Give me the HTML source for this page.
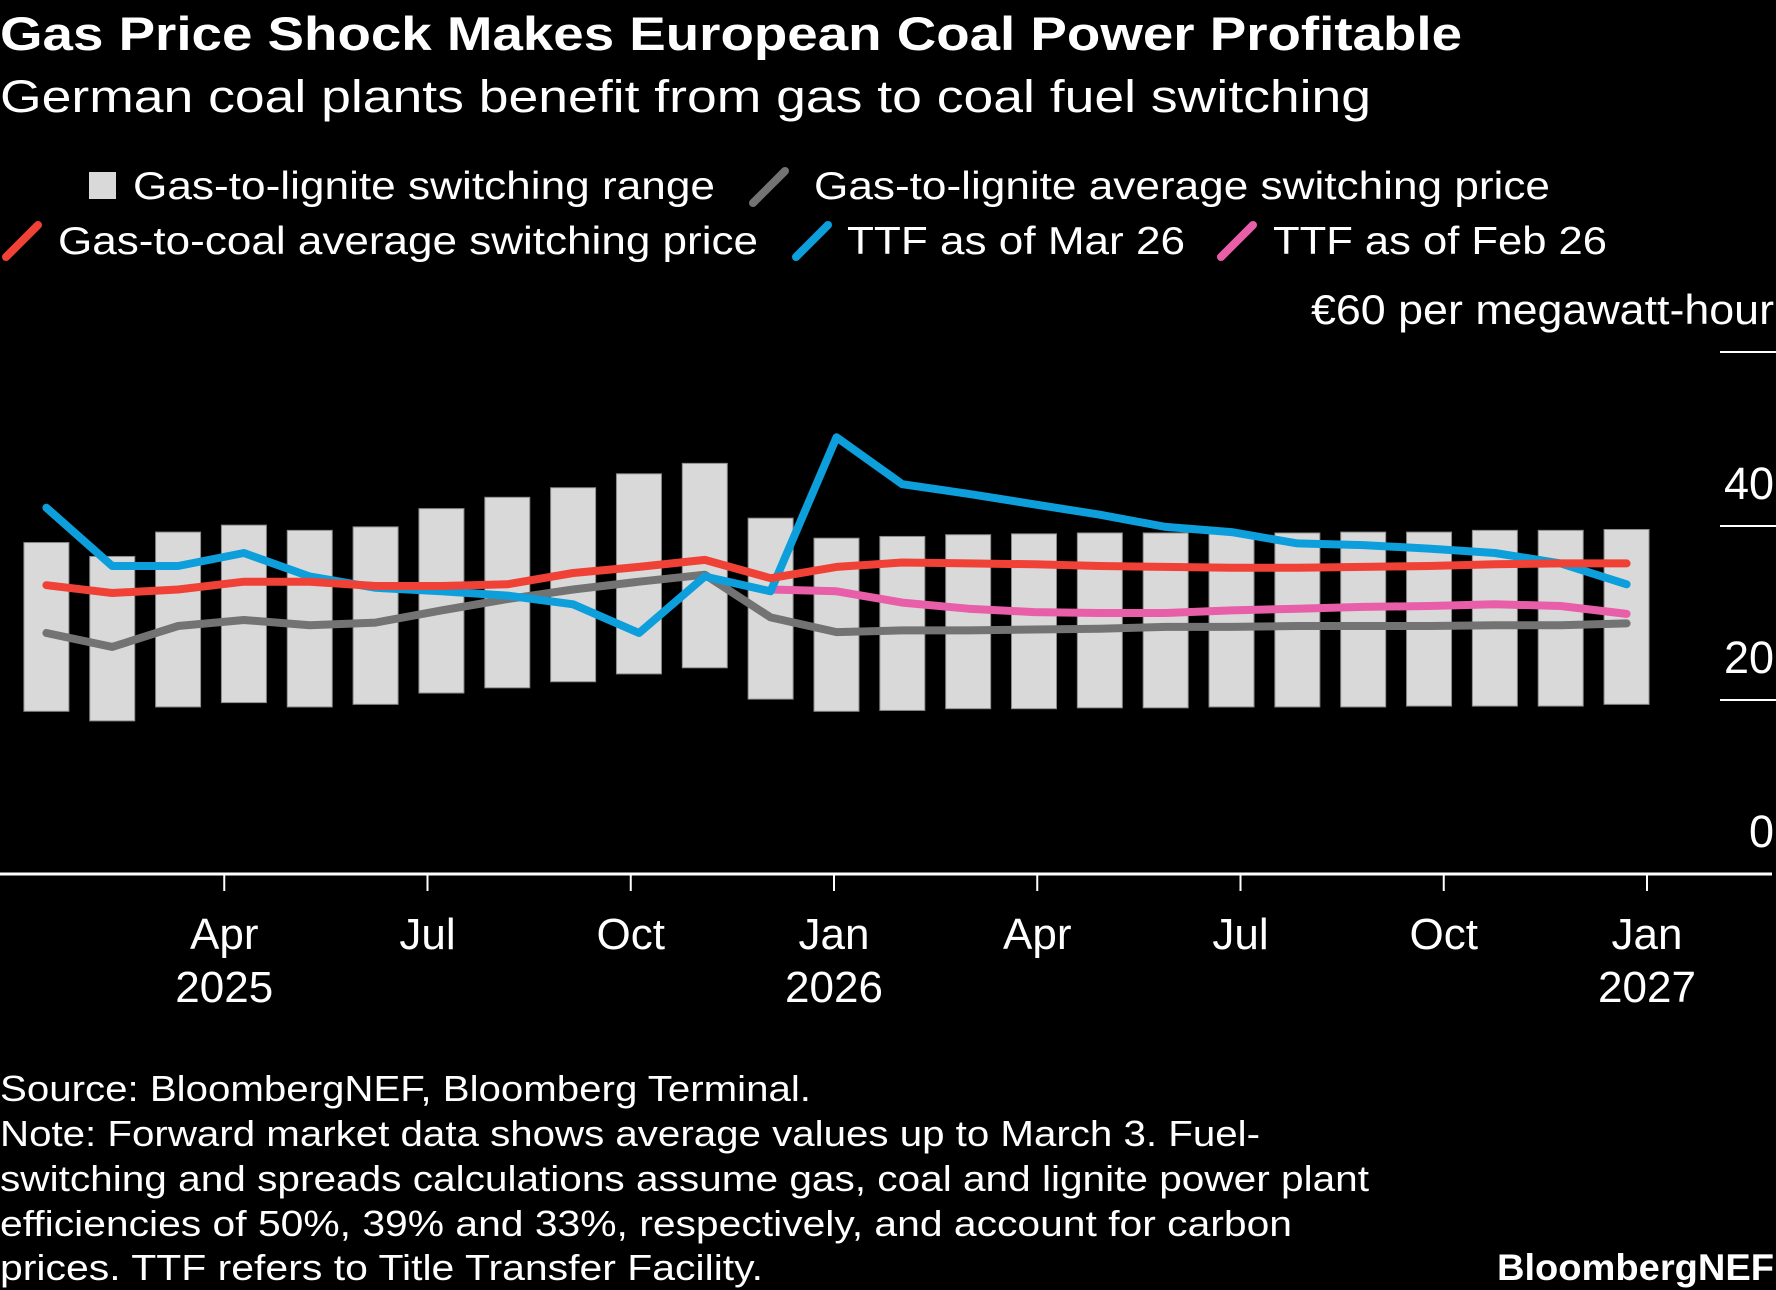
<!DOCTYPE html>
<html><head><meta charset="utf-8"><style>
html,body{margin:0;padding:0;background:#000;}
svg{display:block;font-family:"Liberation Sans",Arial,sans-serif;}
</style></head><body>
<svg id="chart" width="1776" height="1290" viewBox="0 0 1776 1290" xmlns="http://www.w3.org/2000/svg">
<rect width="1776" height="1290" fill="#000"/>
<text x="0" y="50" fill="#fff" font-size="47" font-weight="bold" textLength="1462" lengthAdjust="spacingAndGlyphs">Gas Price Shock Makes European Coal Power Profitable</text>
<text x="0" y="112" fill="#fff" font-size="45" textLength="1371" lengthAdjust="spacingAndGlyphs">German coal plants benefit from gas to coal fuel switching</text>
<g>
<g>
<rect x="89" y="172" width="27" height="27" fill="#d9d9d9"/>
<text x="133" y="199" fill="#fff" font-size="39" textLength="582" lengthAdjust="spacingAndGlyphs">Gas-to-lignite switching range</text></g>
<g>
<line x1="753" y1="203" x2="785" y2="171" stroke="#737373" stroke-width="8" stroke-linecap="round"/>
<text x="814" y="199" fill="#fff" font-size="39" textLength="736" lengthAdjust="spacingAndGlyphs">Gas-to-lignite average switching price</text></g>
<g>
<line x1="6" y1="257" x2="38" y2="225" stroke="#ef4136" stroke-width="8" stroke-linecap="round"/>
<text x="58" y="254" fill="#fff" font-size="39" textLength="700" lengthAdjust="spacingAndGlyphs">Gas-to-coal average switching price</text></g>
<g>
<line x1="796" y1="257" x2="828" y2="225" stroke="#0c9fdc" stroke-width="8" stroke-linecap="round"/>
<text x="847" y="254" fill="#fff" font-size="39" textLength="338" lengthAdjust="spacingAndGlyphs">TTF as of Mar 26</text></g>
<g>
<line x1="1221" y1="257" x2="1253" y2="225" stroke="#e85ea8" stroke-width="8" stroke-linecap="round"/>
<text x="1273" y="254" fill="#fff" font-size="39" textLength="334" lengthAdjust="spacingAndGlyphs">TTF as of Feb 26</text></g>
</g>
<text x="1311" y="324" fill="#fff" font-size="42" textLength="463" lengthAdjust="spacingAndGlyphs">€60 per megawatt-hour</text>
<g id="plot"></g>
<g fill="#fff" font-size="36">
<text x="0" y="1101" textLength="811" lengthAdjust="spacingAndGlyphs">Source: BloombergNEF, Bloomberg Terminal.</text>
<text x="0" y="1146" textLength="1260" lengthAdjust="spacingAndGlyphs">Note: Forward market data shows average values up to March 3. Fuel-</text>
<text x="0" y="1191" textLength="1369" lengthAdjust="spacingAndGlyphs">switching and spreads calculations assume gas, coal and lignite power plant</text>
<text x="0" y="1236" textLength="1292" lengthAdjust="spacingAndGlyphs">efficiencies of 50%, 39% and 33%, respectively, and account for carbon</text>
<text x="0" y="1280" textLength="763" lengthAdjust="spacingAndGlyphs">prices. TTF refers to Title Transfer Facility.</text>
<text x="1497" y="1280" font-weight="bold" font-size="37" textLength="277" lengthAdjust="spacingAndGlyphs">BloombergNEF</text>
</g>
</svg>
<script>
const rangeHigh=[38.1,36.5,39.3,40.1,39.5,39.9,42.0,43.3,44.4,46.0,47.2,40.9,38.6,38.8,39.0,39.1,39.2,39.2,39.2,39.2,39.3,39.3,39.5,39.5,39.6];
const rangeLow=[18.7,17.6,19.2,19.7,19.2,19.5,20.8,21.4,22.1,23.0,23.7,20.1,18.7,18.8,19.0,19.0,19.1,19.1,19.2,19.2,19.2,19.3,19.3,19.3,19.5];
const coalAvg=[33.2,32.3,32.7,33.6,33.6,33.1,33.1,33.3,34.6,35.3,36.1,34.0,35.3,35.8,35.7,35.6,35.4,35.3,35.2,35.2,35.3,35.4,35.6,35.7,35.7];
const ligniteAvg=[27.7,26.1,28.5,29.2,28.6,28.9,30.3,31.6,32.7,33.6,34.4,29.5,27.8,28.0,28.0,28.1,28.2,28.4,28.4,28.5,28.5,28.5,28.6,28.6,28.8];
const ttfMar=[42.1,35.4,35.4,36.9,34.2,32.9,32.5,32.0,31.0,27.7,34.2,32.5,50.2,44.8,43.7,42.5,41.3,39.9,39.3,38.0,37.8,37.4,36.9,35.7,33.3];
const ttfFeb=[null,null,null,null,null,null,null,null,null,null,null,32.7,32.5,31.2,30.5,30.1,30.0,30.0,30.3,30.5,30.7,30.8,31.0,30.8,29.9];
const yTicks=[0,20,40,60];
const yTickLabels=["0","20","40",""];
const xTickMonths=[-9,-6,-3,0,3,6,9,12];
const xTickLabels=[["Apr","2025"],["Jul",""],["Oct",""],["Jan","2026"],["Apr",""],["Jul",""],["Oct",""],["Jan","2027"]];

const NS="http://www.w3.org/2000/svg";
const plot=document.getElementById('plot');
const y=v=>874-v*8.7;
const xi=i=>46.4+i*65.84;
const xm=m=>834+m*67.75;
function mk(tag,attrs){const e=document.createElementNS(NS,tag);for(const k in attrs)e.setAttribute(k,attrs[k]);plot.appendChild(e);return e;}

yTicks.forEach((t,i)=>{
  if(t>0){const g=mk('line',{x1:1720,x2:1776,y1:y(t),y2:y(t),stroke:'#fff','stroke-width':2});
  
  }
  if(yTickLabels[i]){const l=mk('text',{x:1774,y:y(t)-27,fill:'#fff','font-size':45,'text-anchor':'end'});
  l.textContent=yTickLabels[i];
  
  }
});
rangeHigh.forEach((h,i)=>{
  const r=mk('rect',{x:xi(i)-22.5,y:y(h),width:45,height:y(rangeLow[i])-y(h),fill:'#d9d9d9',stroke:'#8a8a8a','stroke-width':1});
  
  
});
function line(arr,color,name){
  let d='';arr.forEach((v,i)=>{if(v==null)return;d+=(d?'L':'M')+xi(i).toFixed(1)+','+y(v).toFixed(1);});
  const p=mk('path',{d:d,fill:'none',stroke:color,'stroke-width':8,'stroke-linejoin':'round','stroke-linecap':'round'});
  
  
}
line(ligniteAvg,'#737373','lignite-average-line');
line(ttfFeb,'#e85ea8','ttf-feb26-line');
line(ttfMar,'#0c9fdc','ttf-mar26-line');
line(coalAvg,'#ef4136','coal-average-line');
const base=mk('line',{x1:0,x2:1772,y1:874,y2:874,stroke:'#fff','stroke-width':3});


xTickMonths.forEach((m,i)=>{
  const t=mk('line',{x1:xm(m),x2:xm(m),y1:874,y2:891,stroke:'#fff','stroke-width':2});
  
  
  const l=mk('text',{x:xm(m),y:949,fill:'#fff','font-size':44,'text-anchor':'middle'});
  l.textContent=xTickLabels[i][0];
  
  
  if(xTickLabels[i][1]){const yl=mk('text',{x:xm(m),y:1002,fill:'#fff','font-size':44,'text-anchor':'middle'});
  yl.textContent=xTickLabels[i][1];
  
  }
});
</script>
</body></html>
